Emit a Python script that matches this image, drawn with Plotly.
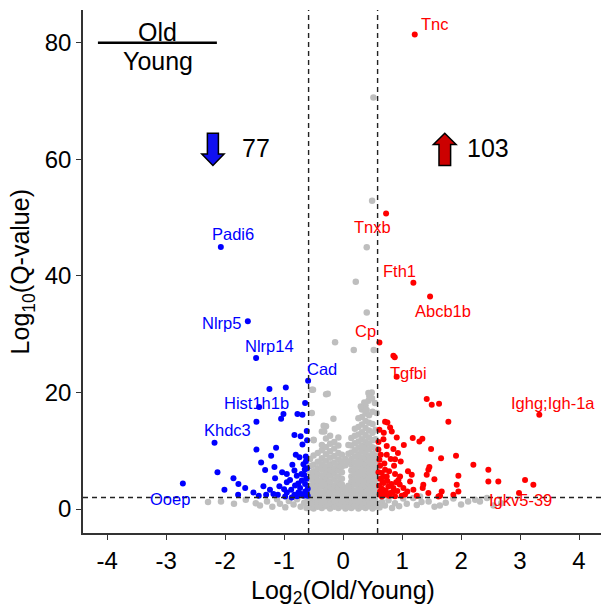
import plotly.graph_objects as go

# ---------------- data ----------------
# significantly down (Old < Young)
down_x = [-2.073, -1.615, -1.475, -0.593, -1.424, -2.18, -2.717,
          -1.249, -0.971, -0.644, -1.011, -1.051, -0.774, -0.689, -1.469, -0.616, -0.825,
          -0.689, -1.469, -1.136, -0.802, -1.22, -0.632, -1.39, -0.672, -2.13, -1.322,
          -1.164, -1.034, -0.954, -0.825, -0.785, -0.706, -1.859, -1.153, -1.775, -1.66,
          -2.012, -1.351, -0.954, -0.814, -0.729, -0.644, -1.52, -1.78, -1.305, -1.181,
          -1.107, -0.983, -0.954, -0.825, -0.757, -0.672, -0.616,
          -0.62, -0.65, -0.60, -0.70, -0.76, -0.88, -0.90, -0.63, -0.86, -0.74, -0.61,
          -0.72, -1.00, -1.08, -0.60, -0.64, -0.78, -0.87, -1.24, -1.43, -0.66, -0.71, -0.61]
down_y = [44.97, 32.2, 25.9, 22.0, 17.5, 11.4, 4.4,
          20.6, 20.85, 18.2, 16.3, 15.5, 16.3, 16.2, 15.0, 13.4, 12.7,
          11.1, 10.2, 10.5, 9.3, 9.14, 9.0, 8.0, 7.7, 6.3, 6.7,
          7.2, 6.34, 6.0, 6.6, 5.7, 6.0, 5.3, 5.3, 4.3, 3.6,
          3.3, 3.9, 4.6, 4.05, 3.6, 4.3, 2.85, 2.45, 2.45, 2.57,
          2.45, 2.16, 2.85, 2.45, 2.85, 2.28, 2.74,
          5.2, 6.8, 3.5, 4.9, 4.4, 3.3, 5.0, 8.2, 7.6, 8.9, 11.8,
          12.5, 3.4, 3.9, 2.3, 3.0, 2.2, 2.0, 3.3, 2.3, 5.9, 2.6, 7.0]

# significantly up (Old > Young)
up_x = [1.215, 0.729, 1.192, 1.475, 0.616, 0.909, 3.327, 2.983,
        0.853, 0.876, 1.418, 1.503, 1.627, 1.785, 0.712, 0.751, 0.616, 0.797, 0.825,
        0.684, 0.910, 1.181, 1.294, 1.344, 0.599, 0.853, 1.492, 0.74, 0.808, 0.881,
        0.977, 1.661, 1.915, 2.209, 0.616, 0.627, 0.712, 0.864, 1.463, 1.446, 1.418,
        2.463, 0.656, 0.74, 0.881, 0.966, 0.938, 1.164, 1.136, 1.548, 1.955, 1.927,
        2.463, 2.632, 3.085, 3.226, 0.684, 0.768, 0.853, 1.022, 1.192, 1.35, 1.36,
        1.446, 1.672, 1.644, 1.616, 1.87, 1.955, 0.994, 0.627, 0.712, 0.797, 0.656,
        0.61, 0.63, 0.60, 0.66, 0.69, 0.72, 0.75, 0.78, 0.82, 0.84, 0.88, 0.92, 0.96,
        1.05, 1.09, 0.62, 0.67, 0.70, 0.64, 0.78, 0.60, 0.74, 0.90, 1.25, 1.10, 0.93,
        1.03, 0.69, 0.65]
up_y = [81.4, 50.7, 38.8, 36.45, 28.56, 22.7, 16.17, 2.74,
        26.3, 26.06, 18.9, 17.9, 18.05, 15.0, 15.0, 14.85, 13.6, 14.0, 13.3,
        12.0, 12.3, 12.2, 11.6, 12.05, 10.2, 10.3, 10.3, 9.3, 8.6, 8.57,
        8.16, 8.74, 9.14, 7.6, 8.45, 7.42, 6.74, 7.42, 7.2, 6.74, 5.88,
        6.74, 6.17, 5.6, 6.0, 5.6, 5.0, 5.88, 4.73, 5.14, 5.7, 4.17,
        4.73, 4.73, 5.0, 4.17, 4.46, 3.87, 3.6, 3.6, 3.3, 3.6, 4.17,
        2.74, 3.0, 2.28, 2.16, 2.45, 3.0, 2.28, 3.0, 2.45, 2.74, 2.16,
        4.0, 5.2, 6.3, 3.5, 5.5, 3.2, 4.8, 2.3, 4.3, 2.9, 2.2, 3.1, 4.2,
        2.5, 3.0, 2.5, 4.6, 7.8, 9.3, 6.5, 11.5, 10.8, 4.6, 2.3, 6.5, 9.6,
        11.0, 13.1, 2.9]

# not significant
ns_x = [-0.56]*9 + [-0.50]*11 + [-0.43]*10 + [-0.36]*13 + [-0.29]*13 + [-0.22]*13 + \
       [-0.15]*12 + [-0.08]*13 + [-0.02]*10 + [0.04]*7 + [0.09]*8 + [0.14]*13 + \
       [0.20]*14 + [0.26]*16 + [0.32]*17 + [0.38]*18 + [0.44]*16 + [0.50]*16 + [0.55]*13
ns_y = [0.3, 1.2, 2.1, 3.0, 4.0, 5.1, 6.2, 7.4, 8.6,
        0.1, 0.9, 1.8, 2.7, 3.6, 4.6, 5.5, 6.5, 7.6, 9.2, 11.8,
        0.4, 1.3, 2.3, 3.2, 4.1, 5.0, 6.0, 7.0, 8.1, 9.6,
        0.2, 1.1, 2.0, 2.9, 3.9, 4.8, 5.8, 6.8, 7.7, 8.7, 10.1, 11.0, 13.3,
        0.5, 1.4, 2.4, 3.3, 4.3, 5.3, 6.2, 7.2, 8.3, 9.4, 10.6, 12.1, 14.2,
        0.1, 1.0, 1.9, 2.8, 3.8, 4.7, 5.7, 6.7, 7.7, 8.8, 9.9, 11.2, 12.6,
        0.4, 1.3, 2.2, 3.2, 4.1, 5.1, 6.1, 7.0, 8.0, 9.1, 10.4, 11.5,
        0.2, 1.0, 1.9, 2.8, 3.7, 4.6, 5.6, 6.6, 7.5, 8.5, 9.6, 10.9, 12.3,
        0.5, 1.4, 2.3, 3.3, 4.2, 5.2, 6.3, 7.3, 8.2, 9.3,
        0.1, 1.0, 1.9, 2.8, 3.6, 7.5, 8.6,
        0.4, 1.3, 2.2, 3.1, 4.0, 8.1, 9.5, 11.0,
        0.2, 1.1, 2.0, 2.9, 3.8, 4.7, 5.6, 6.6, 7.6, 8.6, 9.7, 10.9, 12.2,
        0.5, 1.4, 2.3, 3.2, 4.2, 5.1, 6.1, 7.0, 8.0, 9.0, 10.1, 11.3, 12.6, 13.8,
        0.1, 1.0, 1.9, 2.8, 3.7, 4.6, 5.5, 6.5, 7.5, 8.4, 9.4, 10.5, 11.6, 12.8, 14.1, 15.6,
        0.4, 1.3, 2.2, 3.2, 4.1, 5.0, 6.0, 7.0, 7.9, 8.9, 9.9, 10.9, 12.0, 13.2, 14.5, 15.8, 17.1,
        0.2, 1.1, 2.0, 2.9, 3.9, 4.8, 5.8, 6.7, 7.7, 8.7, 9.6, 10.6, 11.6, 12.7, 13.9, 15.1, 16.4, 17.8,
        0.5, 1.4, 2.4, 3.3, 4.3, 5.2, 6.2, 7.2, 8.2, 9.1, 10.2, 11.2, 12.3, 13.5, 14.8, 16.1,
        0.1, 1.0, 1.9, 2.8, 3.7, 4.7, 5.6, 6.6, 7.6, 8.5, 9.5, 10.6, 11.8, 13.1, 14.6, 16.7,
        0.4, 1.3, 2.2, 3.1, 4.0, 5.0, 6.0, 7.1, 8.1, 9.2, 10.4, 12.0, 13.6]
ns_extra_x = [0.514, 0.492, 0.401, 0.215, 0.401, -0.136, 0.181, 0.520, -0.53, -0.288,
              0.446, 0.486, -0.164, 0.30, 0.36, 0.40, 0.43, -0.51, -0.53, -0.50, 0.54,
              0.43, 0.49, 0.57, -0.33, -0.32, -0.26,
              -2.29, -2.07, -1.85, -1.65, -1.48, -1.41, -1.29, -1.20, -1.12, -1.07, -0.98,
              -0.92, -0.84, -0.78, -0.72, -0.66, -0.62, -0.60,
              0.62, 0.66, 0.71, 0.77, 0.83, 0.88, 0.95, 1.02, 1.08, 1.19, 1.25, 1.33, 1.45,
              1.55, 1.64, 1.74, 1.87, 2.00, 2.12, 2.24, 2.32, 2.44, 2.55, 2.68, 1.305]
ns_extra_y = [70.6, 52.9, 44.9, 39.0, 33.7, 28.6, 27.3, 27.3, 20.45, 19.7,
              19.3, 20.0, 15.5, 17.6, 18.3, 17.0, 18.6, 20.45, 16.5, 11.9, 18.2,
              19.9, 19.0, 16.5, 14.3, 13.3, 19.8,
              1.2, 1.3, 0.9, 1.6, 1.0, 0.6, 1.3, 0.4, 1.7, 0.9, 0.3,
              1.4, 0.8, 1.7, 0.4, 1.1, 0.2, 1.8,
              0.3, 1.2, 0.6, 1.5, 0.2, 1.0, 0.5, 1.8, 0.9, 1.9, 0.7, 1.2, 1.3,
              0.4, 0.6, 1.1, 1.8, 0.8, 1.3, 1.6, 1.3, 1.9, 0.6, 1.0, 2.16]

# labelled genes
down_genes = ["Padi6", "Nlrp5", "Nlrp14", "Cad", "Hist1h1b", "Khdc3", "Ooep"]
up_genes = ["Tnc", "Tnxb", "Fth1", "Abcb1b", "Cp", "Tgfbi", "Ighg;Igh-1a", "Igkv5-39"]
n_down = 77
n_up = 103
fc_cut = 0.585   # log2(1.5)
q_cut = 2.0      # -log10(0.01)

# label placement (layout, not data)
down_lab_pos = [(-1.86, 47.1), (-2.064, 31.9), (-1.254, 27.9), (-0.361, 24.0),
                (-1.475, 18.2), (-1.955, 13.5), (-2.93, 1.77)]
up_lab_pos = [(1.565, 83.2), (0.503, 48.3), (0.955, 40.85), (1.70, 33.9),
              (0.384, 30.6), (1.107, 23.4), (3.565, 18.2), (3.006, 1.56)]

BLUE = "#0000FF"
RED = "#FF0000"
GREY = "#BEBEBE"
FONT = "Liberation Sans, Arial, sans-serif"

fig = go.Figure()
fig.add_trace(go.Scatter(x=ns_x + ns_extra_x, y=ns_y + ns_extra_y, mode="markers",
                         marker=dict(color=GREY, size=6.5), hoverinfo="skip"))
fig.add_trace(go.Scatter(x=down_x, y=down_y, mode="markers",
                         marker=dict(color=BLUE, size=6)))
fig.add_trace(go.Scatter(x=up_x, y=up_y, mode="markers",
                         marker=dict(color=RED, size=6)))

annots = []
for name, (lx, ly) in zip(down_genes, down_lab_pos):
    annots.append(dict(x=lx, y=ly, xref="x", yref="y", text=name, showarrow=False,
                       font=dict(family=FONT, size=16.5, color=BLUE)))
for name, (lx, ly) in zip(up_genes, up_lab_pos):
    annots.append(dict(x=lx, y=ly, xref="x", yref="y", text=name, showarrow=False,
                       font=dict(family=FONT, size=16.5, color=RED)))

# counts
annots.append(dict(x=-1.483, y=62.0, xref="x", yref="y", text=str(n_down), showarrow=False,
                   font=dict(family=FONT, size=25, color="black")))
annots.append(dict(x=2.458, y=61.9, xref="x", yref="y", text=str(n_up), showarrow=False,
                   font=dict(family=FONT, size=25, color="black")))
# Old / Young fraction
annots.append(dict(x=-3.14, y=81.8, xref="x", yref="y", text="Old", showarrow=False,
                   font=dict(family=FONT, size=25, color="black")))
annots.append(dict(x=-3.14, y=76.8, xref="x", yref="y", text="Young", showarrow=False,
                   font=dict(family=FONT, size=25, color="black")))
# axis titles
annots.append(dict(x=0.502, y=-0.112, xref="paper", yref="paper",
                   text="Log<sub>2</sub>(Old/Young)", showarrow=False,
                   xanchor="center", yanchor="middle",
                   font=dict(family=FONT, size=25, color="black")))
annots.append(dict(x=-0.118, y=0.5, xref="paper", yref="paper",
                   text="Log<sub>10</sub>(Q-value)", showarrow=False, textangle=-90,
                   xanchor="center", yanchor="middle",
                   font=dict(family=FONT, size=25, color="black")))

dash_line = dict(color="#222222", width=1.4, dash="5px,4px")
shapes = [
    dict(type="line", xref="x", yref="paper", x0=-fc_cut, x1=-fc_cut, y0=0, y1=1, line=dash_line),
    dict(type="line", xref="x", yref="paper", x0=fc_cut, x1=fc_cut, y0=0, y1=1, line=dash_line),
    dict(type="line", xref="paper", yref="y", x0=0, x1=1, y0=q_cut, y1=q_cut, line=dash_line),
    dict(type="line", xref="x", yref="y", x0=-4.157, x1=-2.14, y0=80, y1=80,
         line=dict(color="black", width=2.5)),
    # down arrow (blue)
    dict(type="path", xref="x", yref="y",
         path="M -2.301 64.46 L -2.114 64.46 L -2.114 60.91 L -2.018 60.91 L -2.207 58.94 "
              "L -2.396 60.91 L -2.301 60.91 Z",
         fillcolor="#1010F0", line=dict(color="black", width=1.5)),
    # up arrow (red)
    dict(type="path", xref="x", yref="y",
         path="M 1.626 58.94 L 1.823 58.94 L 1.823 62.54 L 1.916 62.54 L 1.724 64.46 "
              "L 1.531 62.54 L 1.626 62.54 Z",
         fillcolor="#CC0000", line=dict(color="black", width=1.5)),
]

axis_common = dict(showline=True, linecolor="#333333", linewidth=1.6, ticks="outside",
                   ticklen=5, tickwidth=1.4, tickcolor="#333333", showgrid=False,
                   zeroline=False, tickfont=dict(family=FONT, size=24, color="black"))

fig.update_layout(
    width=601, height=609,
    margin=dict(l=83, r=0, t=10, b=76),
    plot_bgcolor="white", paper_bgcolor="white",
    showlegend=False,
    xaxis=dict(range=[-4.41, 4.373], tickvals=[-4, -3, -2, -1, 0, 1, 2, 3, 4],
               ticktext=["-4", "-3", "-2", "-1", "0", "1", "2", "3", "4"], **axis_common),
    yaxis=dict(range=[-4.1, 85.6], tickvals=[0, 20, 40, 60, 80], **axis_common),
    annotations=annots,
    shapes=shapes,
)

fig.write_html("out.html")
